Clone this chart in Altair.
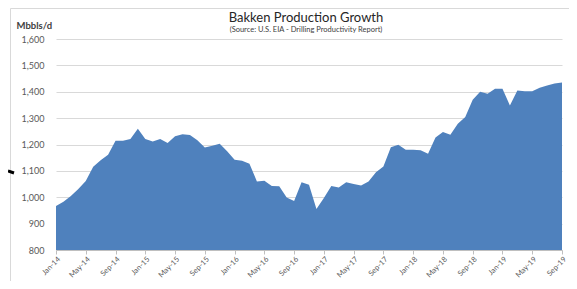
import altair as alt
import pandas as pd

months = [
    "Jan-14", "Feb-14", "Mar-14", "Apr-14", "May-14", "Jun-14", "Jul-14", "Aug-14", "Sep-14", "Oct-14", "Nov-14", "Dec-14",
    "Jan-15", "Feb-15", "Mar-15", "Apr-15", "May-15", "Jun-15", "Jul-15", "Aug-15", "Sep-15", "Oct-15", "Nov-15", "Dec-15",
    "Jan-16", "Feb-16", "Mar-16", "Apr-16", "May-16", "Jun-16", "Jul-16", "Aug-16", "Sep-16", "Oct-16", "Nov-16", "Dec-16",
    "Jan-17", "Feb-17", "Mar-17", "Apr-17", "May-17", "Jun-17", "Jul-17", "Aug-17", "Sep-17", "Oct-17", "Nov-17", "Dec-17",
    "Jan-18", "Feb-18", "Mar-18", "Apr-18", "May-18", "Jun-18", "Jul-18", "Aug-18", "Sep-18", "Oct-18", "Nov-18", "Dec-18",
    "Jan-19", "Feb-19", "Mar-19", "Apr-19", "May-19", "Jun-19", "Jul-19", "Aug-19", "Sep-19",
]
production = [
    967, 983, 1005, 1031, 1062, 1116, 1140, 1161, 1214, 1214, 1221, 1260,
    1221, 1211, 1221, 1206, 1231, 1239, 1236, 1216, 1189, 1195, 1203, 1174,
    1142, 1138, 1127, 1060, 1063, 1043, 1042, 999, 986, 1057, 1047, 955,
    997, 1043, 1037, 1057, 1050, 1045, 1060, 1095, 1117, 1190, 1199, 1180,
    1180, 1178, 1165, 1227, 1247, 1237, 1279, 1304, 1370, 1400, 1392, 1411,
    1411, 1348, 1405, 1402, 1402, 1415, 1424, 1431, 1435,
]
tick_labels = months[::4]
y_ticks = [800, 900, 1000, 1100, 1200, 1300, 1400, 1500, 1600]

title_text = "Bakken Production Growth"
subtitle_text = "(Source: U.S. EIA - Drilling Productivity Report)"
y_title = "Mbbls/d"

df = pd.DataFrame({"month": months, "value": production})
one = pd.DataFrame({"t": [title_text], "s": [subtitle_text]})

FONT = "Lato"
W, H = 506, 211

frame = alt.Chart(one).mark_rect(fillOpacity=0, stroke="#d9d9d9", strokeWidth=1).encode(
    x=alt.value(-45.5), x2=alt.value(560), y=alt.value(-30.5), y2=alt.value(300)
)

arrow = alt.Chart(one).mark_rule(color="black", strokeWidth=3).encode(
    x=alt.value(-48), x2=alt.value(-42), y=alt.value(132), y2=alt.value(134)
)

area = alt.Chart(df).mark_area(color="#4f81bd", clip=True).encode(
    x=alt.X(
        "month:O",
        sort=None,
        scale=alt.Scale(type="point", padding=0),
        axis=alt.Axis(
            values=tick_labels,
            title=None,
            labelAngle=-45,
            labelFontSize=7.5,
            labelColor="#595959",
            labelFont=FONT,
            domainColor="#bfbfbf",
            tickColor="#bfbfbf",
            tickSize=4,
            labelPadding=1,
            grid=False,
        ),
    ),
    y=alt.Y(
        "value:Q",
        scale=alt.Scale(domain=[800, 1600], nice=False, zero=False),
        axis=alt.Axis(
            values=y_ticks,
            labelExpr="format(datum.value, ',.0f')",
            title=y_title,
            titleAngle=0,
            titleX=-40,
            titleY=-14,
            titleAlign="left",
            titleBaseline="middle",
            titleFontWeight="bold",
            titleFontSize=9.5,
            titleFont=FONT,
            titleColor="#404040",
            labelFontSize=9,
            labelFont=FONT,
            labelColor="#595959",
            labelPadding=12,
            tickSize=0,
            domain=False,
            gridColor="#d9d9d9",
            gridWidth=1,
        ),
    ),
    y2=alt.datum(800),
)

title = alt.Chart(one).mark_text(font=FONT, fontSize=13, color="#262626", align="center", baseline="middle").encode(
    text="t:N", x=alt.value(250), y=alt.value(-21)
)
subtitle = alt.Chart(one).mark_text(font=FONT, fontSize=7.5, color="#404040", align="center", baseline="middle").encode(
    text="s:N", x=alt.value(250), y=alt.value(-9)
)

chart = alt.layer(frame, area, arrow, title, subtitle).properties(
    width=W,
    height=H,
    padding={"left": 48, "top": 31, "right": 7, "bottom": 31},
    autosize="none",
    background="white",
).configure_view(stroke=None)

chart.save("out.html", embed_options={"renderer": "svg", "actions": False})
